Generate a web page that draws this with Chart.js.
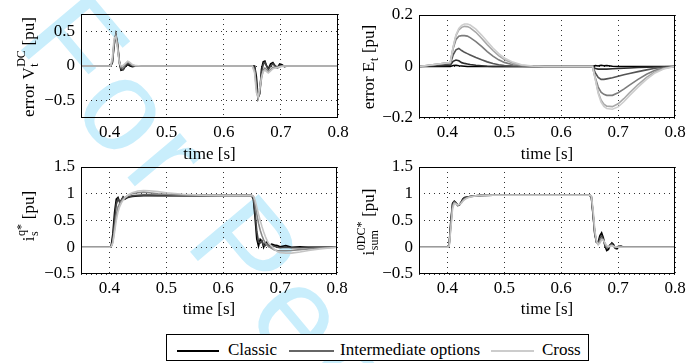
<!DOCTYPE html>
<html>
<head>
<meta charset="utf-8">
<script src="https://cdn.jsdelivr.net/npm/chart.js@4.4.0/dist/chart.umd.min.js"></script>
<style>
  html, body { margin: 0; padding: 0; background: #fff; }
  #page { position: relative; width: 686px; height: 363px; overflow: hidden; font-family: "Liberation Serif", serif; }
  #page canvas { position: absolute; left: 0; top: 0; }
  #legend { position: absolute; left: 166px; top: 334px; width: 421px; height: 25px; border: 1px solid #000; background: #fff; font-size: 17px; color: #000; }
  #legend .ln { position: absolute; top: 15px; height: 2px; }
  #legend .lt { position: absolute; top: 5px; line-height: 20px; }
</style>
</head>
<body>
<div id="page">
  <canvas id="mark" width="686" height="363"></canvas>
  <canvas id="chartV" width="686" height="363"></canvas>
  <canvas id="chartE" width="686" height="363"></canvas>
  <canvas id="chartQ" width="686" height="363"></canvas>
  <canvas id="chartS" width="686" height="363"></canvas>
  <div id="legend">
    <span class="ln" style="left:10px;width:42px;background:#000"></span><span class="lt" style="left:61px">Classic</span>
    <span class="ln" style="left:122px;width:45px;background:#666"></span><span class="lt" style="left:173px">Intermediate options</span>
    <span class="ln" style="left:324px;width:43px;background:#ccc"></span><span class="lt" style="left:375px">Cross</span>
  </div>
</div>
<script>
/* ==========================================
   Data
========================================== */

const xTicks = [0.4, 0.5, 0.6, 0.7, 0.8];
const yTicksV = [-0.5, 0, 0.5];
const yTicksE = [-0.2, 0, 0.2];
const yTicksI = [-0.5, 0, 0.5, 1, 1.5];

// error V_t^DC
const tV = [0.35, 0.402, 0.405, 0.408, 0.411, 0.414, 0.417, 0.420, 0.424, 0.428, 0.432, 0.436, 0.440, 0.446, 0.455,
            0.60, 0.650,
            0.654, 0.657, 0.660, 0.663, 0.666, 0.669, 0.672, 0.675, 0.678, 0.682, 0.686, 0.690, 0.694, 0.698, 0.702, 0.706, 0.712, 0.72, 0.80];
const vClassic = [0, 0, 0.05, 0.30, 0.44, 0.30, 0.05, -0.06, -0.05, 0.0, 0.02, 0.0, -0.01, 0, 0,
                  0, 0,
                  0, -0.15, -0.45, -0.40, -0.05, 0.06, 0.07, 0.0, -0.04, 0.03, 0.05, 0.0, -0.02, 0.03, 0.02, -0.01, 0, 0, 0];
const vInt1 = [0, 0, 0.06, 0.33, 0.46, 0.33, 0.08, -0.04, -0.05, 0.01, 0.04, 0.02, 0, 0, 0,
               0, 0,
               -0.02, -0.25, -0.46, -0.36, -0.10, 0.02, 0.05, 0.0, -0.05, 0.0, 0.03, 0.0, -0.02, 0.01, 0.0, 0, 0, 0, 0];
const vInt2 = [0, 0, 0.08, 0.36, 0.45, 0.30, 0.06, -0.02, -0.02, 0.03, 0.06, 0.04, 0.01, 0, 0,
               0, 0,
               -0.06, -0.32, -0.47, -0.38, -0.18, -0.06, -0.03, -0.05, -0.08, -0.05, -0.02, -0.02, -0.03, -0.01, 0, 0, 0, 0, 0];
const vCross = [0, 0, 0.12, 0.40, 0.42, 0.25, 0.05, 0, 0.01, 0.04, 0.07, 0.05, 0.02, 0.005, 0,
                0, 0,
                -0.10, -0.38, -0.45, -0.32, -0.16, -0.08, -0.06, -0.08, -0.10, -0.07, -0.04, -0.03, -0.02, -0.01, -0.005, 0, 0, 0, 0];

// error E_t
const tE = [0.35, 0.405, 0.410, 0.415, 0.420, 0.425, 0.430, 0.435, 0.440, 0.450, 0.460, 0.470, 0.480, 0.490, 0.500, 0.515, 0.530, 0.550, 0.570,
            0.655, 0.660, 0.665, 0.670, 0.675, 0.680, 0.690, 0.700, 0.710, 0.720, 0.735, 0.750, 0.765, 0.780, 0.800];
const eClassic = [0, 0, 0.004, 0.005, 0.003, 0.002, 0.001, 0, 0, 0, 0, 0, 0, 0, 0, 0, 0, 0, 0,
                  0, 0.004, 0.002, 0.005, 0.003, 0.004, 0.001, 0, 0, 0, 0, 0, 0, 0, 0];
const eInt1 = [0, 0.005, 0.02, 0.025, 0.022, 0.015, 0.012, 0.01, 0.008, 0.005, 0.003, 0.001, 0, 0, 0, 0, 0, 0, 0,
               0, -0.008, -0.01, -0.01, -0.01, -0.01, -0.009, -0.008, -0.007, -0.006, -0.004, -0.003, -0.002, -0.001, 0];
const eInt2 = [0, 0.01, 0.045, 0.065, 0.07, 0.062, 0.055, 0.05, 0.045, 0.035, 0.026, 0.018, 0.012, 0.007, 0.004, 0.002, 0.001, 0, 0,
               0, -0.025, -0.042, -0.05, -0.05, -0.048, -0.044, -0.038, -0.032, -0.027, -0.02, -0.013, -0.007, -0.003, 0];
const eInt3 = [0, 0.015, 0.07, 0.105, 0.118, 0.12, 0.12, 0.118, 0.112, 0.097, 0.078, 0.058, 0.04, 0.026, 0.016, 0.007, 0.003, 0.001, 0,
               0, -0.045, -0.08, -0.1, -0.108, -0.112, -0.112, -0.102, -0.088, -0.072, -0.05, -0.03, -0.015, -0.006, 0];
const eInt4 = [0, 0.015, 0.075, 0.12, 0.142, 0.152, 0.156, 0.155, 0.15, 0.133, 0.11, 0.085, 0.062, 0.042, 0.027, 0.013, 0.005, 0.001, 0,
               0, -0.05, -0.1, -0.13, -0.146, -0.154, -0.156, -0.145, -0.125, -0.102, -0.07, -0.042, -0.02, -0.008, 0];
const eCross = [0, 0.015, 0.075, 0.123, 0.148, 0.16, 0.165, 0.165, 0.161, 0.145, 0.122, 0.097, 0.072, 0.05, 0.033, 0.017, 0.007, 0.002, 0,
                0, -0.05, -0.105, -0.138, -0.155, -0.163, -0.166, -0.157, -0.137, -0.113, -0.08, -0.05, -0.025, -0.01, 0];

// i_s^q*
const tQ = [0.35, 0.400, 0.403, 0.406, 0.409, 0.412, 0.415, 0.418, 0.421, 0.424, 0.427, 0.430, 0.435, 0.440, 0.450, 0.460, 0.470, 0.485, 0.500, 0.530, 0.560, 0.600, 0.650,
            0.653, 0.656, 0.659, 0.662, 0.665, 0.668, 0.671, 0.674, 0.677, 0.680, 0.685, 0.690, 0.695, 0.700, 0.710, 0.720, 0.735, 0.750, 0.770, 0.800];
const qClassic = [0, 0, 0.02, 0.25, 0.65, 0.90, 0.93, 0.84, 0.88, 0.94, 0.90, 0.92, 0.94, 0.95, 0.96, 0.965, 0.965, 0.965, 0.965, 0.965, 0.965, 0.965, 0.965,
                  0.90, 0.55, 0.15, 0.02, 0.15, 0.12, 0.0, 0.08, 0.10, 0.02, 0.06, 0.04, 0.03, 0.01, 0.03, 0.0, 0.01, 0, 0, 0];
const qInt1 = [0, 0, 0.01, 0.15, 0.50, 0.80, 0.90, 0.86, 0.88, 0.93, 0.92, 0.93, 0.95, 0.96, 0.97, 0.975, 0.975, 0.97, 0.97, 0.965, 0.965, 0.965, 0.965,
               0.92, 0.65, 0.30, 0.10, 0.08, 0.12, 0.04, 0.03, 0.07, 0.02, 0.03, 0.02, 0.0, -0.01, 0.0, -0.01, -0.01, 0, 0, 0];
const qInt2 = [0, 0, 0.01, 0.10, 0.35, 0.60, 0.75, 0.82, 0.86, 0.90, 0.93, 0.95, 0.98, 1.0, 1.02, 1.03, 1.02, 1.0, 0.99, 0.975, 0.97, 0.965, 0.965,
               0.95, 0.80, 0.62, 0.45, 0.32, 0.22, 0.14, 0.08, 0.04, 0.01, -0.02, -0.05, -0.06, -0.065, -0.065, -0.06, -0.045, -0.03, -0.015, 0];
const qCross = [0, 0, 0.01, 0.08, 0.28, 0.50, 0.66, 0.76, 0.83, 0.88, 0.92, 0.95, 0.99, 1.02, 1.05, 1.06, 1.055, 1.04, 1.02, 0.99, 0.975, 0.965, 0.965,
                0.96, 0.88, 0.75, 0.62, 0.50, 0.39, 0.29, 0.20, 0.13, 0.07, 0.02, -0.04, -0.08, -0.10, -0.11, -0.11, -0.09, -0.06, -0.03, 0];

// i_sum^0DC*
const tS = [0.35, 0.400, 0.403, 0.406, 0.409, 0.412, 0.415, 0.418, 0.421, 0.424, 0.427, 0.430, 0.435, 0.440, 0.450, 0.460, 0.480, 0.600, 0.650,
            0.653, 0.656, 0.659, 0.662, 0.665, 0.668, 0.671, 0.674, 0.677, 0.680, 0.683, 0.686, 0.689, 0.692, 0.695, 0.698, 0.701, 0.705, 0.710, 0.720, 0.750, 0.800];
const sClassic = [0, 0, 0.05, 0.50, 0.82, 0.86, 0.83, 0.78, 0.79, 0.84, 0.90, 0.93, 0.94, 0.95, 0.96, 0.97, 0.975, 0.975, 0.975,
                  0.93, 0.60, 0.25, 0.10, 0.10, 0.22, 0.27, 0.18, 0.02, -0.06, -0.04, 0.04, 0.08, 0.05, -0.02, -0.03, 0.01, 0.02, 0.0, 0, 0, 0];
const sInt1 = [0, 0, 0.04, 0.45, 0.80, 0.85, 0.83, 0.79, 0.80, 0.84, 0.89, 0.92, 0.94, 0.95, 0.96, 0.97, 0.975, 0.975, 0.975,
               0.94, 0.62, 0.25, 0.09, 0.08, 0.17, 0.21, 0.15, 0.04, -0.02, 0.0, 0.05, 0.06, 0.02, -0.01, 0.0, 0.02, 0.01, 0, 0, 0, 0];
const sInt2 = [0, 0, 0.03, 0.40, 0.77, 0.84, 0.82, 0.79, 0.80, 0.83, 0.87, 0.90, 0.93, 0.95, 0.96, 0.97, 0.975, 0.975, 0.975,
               0.95, 0.65, 0.28, 0.10, 0.06, 0.12, 0.17, 0.14, 0.06, 0.0, 0.0, 0.03, 0.04, 0.02, 0.0, 0.0, 0.01, 0.01, 0, 0, 0, 0];
const sCross = [0, 0, 0.02, 0.35, 0.72, 0.82, 0.81, 0.79, 0.80, 0.82, 0.86, 0.89, 0.92, 0.94, 0.96, 0.97, 0.975, 0.975, 0.975,
                0.96, 0.70, 0.32, 0.12, 0.05, 0.08, 0.14, 0.13, 0.08, 0.03, 0.01, 0.02, 0.03, 0.02, 0.01, 0.0, 0.0, 0.0, 0, 0, 0, 0];

/* ==========================================
   Watermark behind the plots
========================================== */

(function () {
    const ctx = document.getElementById("mark").getContext("2d");
    const text = "For Peer Review";
    ctx.save();
    ctx.translate(14, 42);
    ctx.rotate(50 * Math.PI / 180);
    ctx.font = "130px 'Liberation Sans', sans-serif";
    ctx.fillStyle = "#c9eefc";
    ctx.textBaseline = "alphabetic";
    let x = 0;
    for (const ch of text) {
        ctx.fillText(ch, x, 0);
        x += ctx.measureText(ch).width + 8;
    }
    ctx.restore();
})();

/* ==========================================
   Helpers
========================================== */

const SERIF = "'Liberation Serif', 'Times New Roman', serif";
const grays4 = ["#000000", "#444444", "#888888", "#c4c4c4"];
const grays6 = ["#000000", "#2c2c2c", "#545454", "#7c7c7c", "#a8a8a8", "#cdcdcd"];

function pts(t, v) {
    return t.map((x, i) => ({ x: x, y: v[i] }));
}

function fmt(v) {
    if (v === 0) return "0";
    return String(+v.toFixed(2)).replace("-", "\u2212");
}

// rotated y label with stacked sub/superscripts
function drawRich(ctx, parts) {
    const big = "17px " + SERIF, small = "12px " + SERIF;
    let widths = parts.map(p => {
        if (p.length === 1) { ctx.font = big; return ctx.measureText(p[0]).width; }
        ctx.font = small;
        return Math.max(ctx.measureText(p[0]).width, ctx.measureText(p[1]).width) + 1;
    });
    let x = -widths.reduce((a, b) => a + b, 0) / 2;
    const base = 5;
    ctx.textAlign = "left";
    ctx.textBaseline = "alphabetic";
    parts.forEach((p, i) => {
        if (p.length === 1) {
            ctx.font = big;
            ctx.fillText(p[0], x, base);
        } else {
            ctx.font = small;
            ctx.fillText(p[0], x + 0.5, base + 4);
            ctx.fillText(p[1], x + 0.5, base - 9);
        }
        x += widths[i];
    });
}

const axisText = {
    id: "axisText",
    afterDraw(chart, args, o) {
        const ctx = chart.ctx;
        const a = chart.chartArea;
        ctx.save();
        ctx.strokeStyle = "#000";
        ctx.lineWidth = 1;
        ctx.strokeRect(Math.round(a.left) + 0.5, Math.round(a.top) + 0.5,
                       Math.round(a.right - a.left) - 1, Math.round(a.bottom - a.top) - 1);
        ctx.fillStyle = "#000";
        ctx.font = "17px " + SERIF;
        ctx.textAlign = "center";
        ctx.textBaseline = "middle";
        ctx.fillText("time [s]", (a.left + a.right) / 2, o.xTitleY);
        ctx.translate(o.yLabelX, o.yLabelY);
        ctx.rotate(-Math.PI / 2);
        drawRich(ctx, o.yLabel);
        ctx.restore();
    }
};

function makeChart(id, cfg) {
    const yAxisW = 70, xAxisH = 30;
    new Chart(document.getElementById(id), {
        type: "line",
        data: {
            datasets: cfg.series.map((s, i) => ({
                data: pts(cfg.t, s),
                borderColor: cfg.colors[i],
                borderWidth: 1.6,
                pointRadius: 0,
                fill: false,
                tension: 0,
                order: cfg.series.length - i
            }))
        },
        options: {
            responsive: false,
            animation: false,
            events: [],
            layout: {
                padding: {
                    left: cfg.box[0] - yAxisW,
                    right: 686 - cfg.box[1],
                    top: cfg.box[2],
                    bottom: 363 - cfg.box[3] - xAxisH
                }
            },
            plugins: {
                legend: { display: false },
                tooltip: { enabled: false },
                axisText: cfg.text
            },
            scales: {
                x: {
                    type: "linear",
                    min: 0.35,
                    max: 0.8,
                    afterBuildTicks: s => { s.ticks = xTicks.map(v => ({ value: v })); },
                    afterFit: s => { s.height = xAxisH; s.paddingLeft = 0; s.paddingRight = 0; },
                    grid: { color: "#333", lineWidth: 1, drawTicks: false, borderDash: [1, 4] },
                    border: { display: false, dash: [1, 4] },
                    ticks: {
                        color: "#000",
                        padding: 4,
                        maxRotation: 0,
                        autoSkip: false,
                        font: { family: SERIF, size: 17 },
                        callback: v => fmt(v)
                    }
                },
                y: {
                    min: cfg.yMin,
                    max: cfg.yMax,
                    afterBuildTicks: s => { s.ticks = cfg.yTicks.map(v => ({ value: v })); },
                    afterFit: s => { s.width = yAxisW; s.paddingTop = 0; s.paddingBottom = 0; },
                    grid: { color: "#333", lineWidth: 1, drawTicks: false, borderDash: [1, 4] },
                    border: { display: false, dash: [1, 4] },
                    ticks: {
                        color: "#000",
                        padding: 6,
                        autoSkip: false,
                        font: { family: SERIF, size: 17 },
                        callback: v => fmt(v)
                    }
                }
            }
        },
        plugins: [axisText]
    });
}

/* ==========================================
   Charts
========================================== */

makeChart("chartV", {
    box: [81, 338, 14, 118],
    t: tV,
    series: [vClassic, vInt1, vInt2, vCross],
    colors: grays4,
    yMin: -0.75, yMax: 0.75, yTicks: yTicksV,
    text: { xTitleY: 155, yLabelX: 29, yLabelY: 67, yLabel: [["error V"], ["t", "DC"], [" [pu]"]] }
});

makeChart("chartE", {
    box: [419, 675, 15, 118],
    t: tE,
    series: [eClassic, eInt1, eInt2, eInt3, eInt4, eCross],
    colors: grays6,
    yMin: -0.2, yMax: 0.2, yTicks: yTicksE,
    text: { xTitleY: 155, yLabelX: 369, yLabelY: 67, yLabel: [["error E"], ["t", ""], [" [pu]"]] }
});

makeChart("chartQ", {
    box: [81, 337, 167, 274],
    t: tQ,
    series: [qClassic, qInt1, qInt2, qCross],
    colors: grays4,
    yMin: -0.5, yMax: 1.5, yTicks: yTicksI,
    text: { xTitleY: 310, yLabelX: 29, yLabelY: 216, yLabel: [["i"], ["s", "q*"], [" [pu]"]] }
});

makeChart("chartS", {
    box: [419, 675, 167, 274],
    t: tS,
    series: [sClassic, sInt1, sInt2, sCross],
    colors: grays4,
    yMin: -0.5, yMax: 1.5, yTicks: yTicksI,
    text: { xTitleY: 310, yLabelX: 369, yLabelY: 222, yLabel: [["i"], ["sum", "0DC*"], [" [pu]"]] }
});
</script>
</body>
</html>
